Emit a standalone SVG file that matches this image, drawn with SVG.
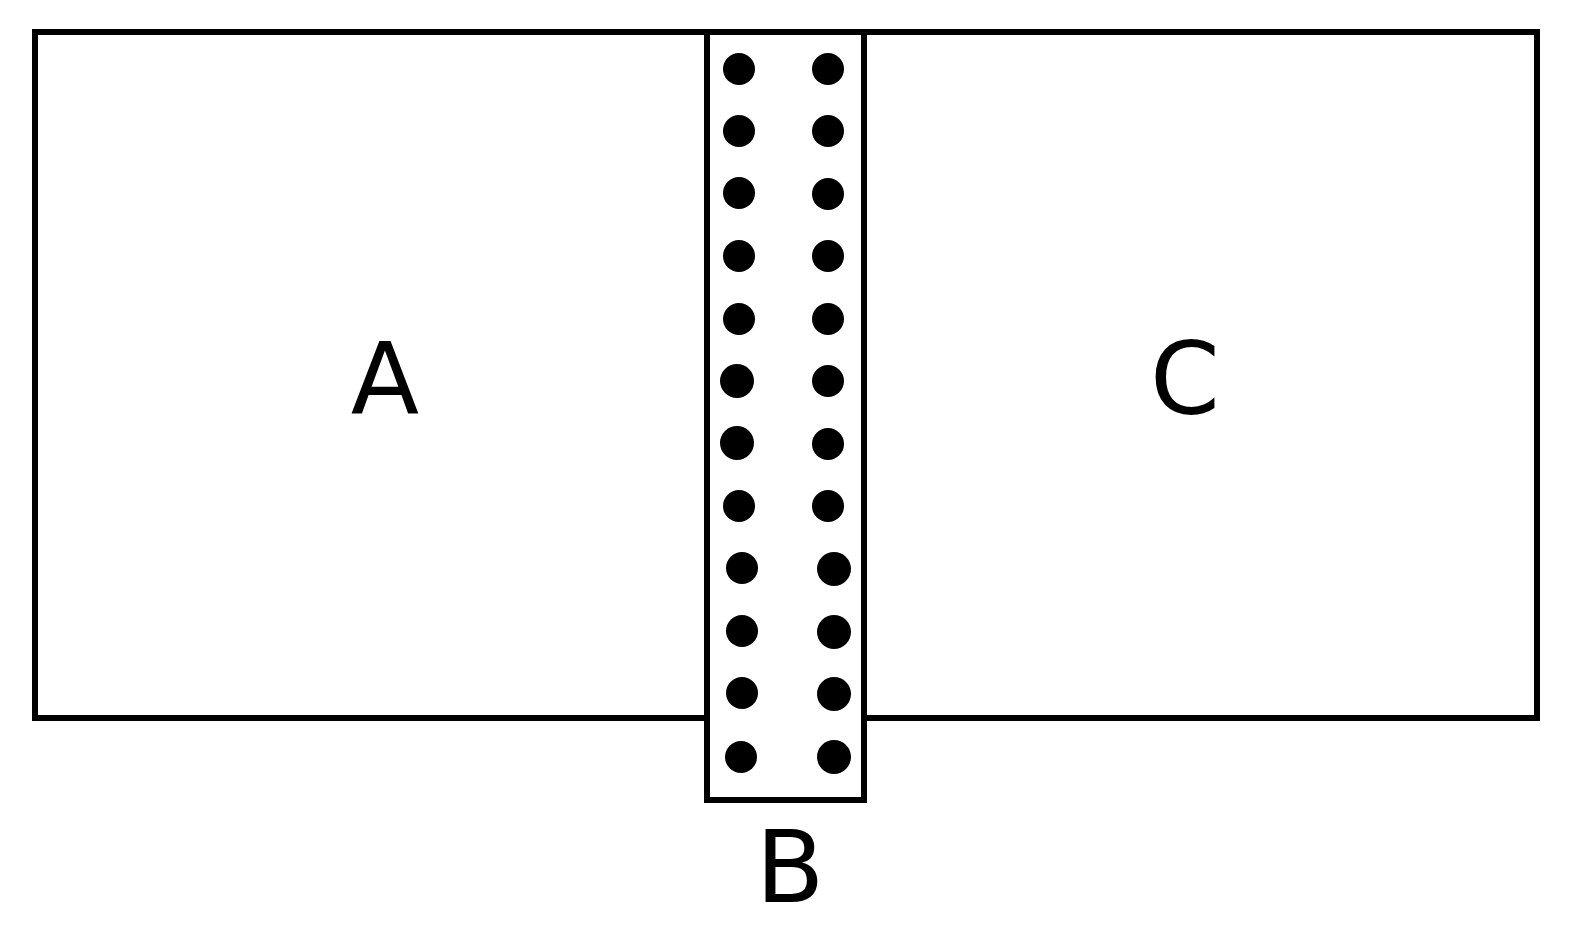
<svg xmlns="http://www.w3.org/2000/svg" width="1574" height="929" viewBox="0 0 1574 929">
<style>
.box{fill:none;stroke:#000;stroke-width:6}
.lbl{font-family:"DejaVu Sans",sans-serif;font-size:100px;fill:#000;text-anchor:middle}
.dot{fill:#000}
</style>
<rect width="1574" height="929" fill="#fff"/>
<g id="A"><rect class="box" x="35" y="32" width="672" height="686"/><text class="lbl" x="385" y="414">A</text></g>
<g id="C"><rect class="box" x="864" y="32" width="673" height="686"/><text class="lbl" x="1185" y="414">C</text></g>
<g id="B"><rect class="box" fill="#fff" style="fill:#fff" x="707" y="32" width="157" height="768"/>
<g class="dot">
<circle cx="739" cy="69" r="16"/><circle cx="828" cy="69" r="16"/>
<circle cx="739" cy="131" r="16"/><circle cx="828" cy="131" r="16"/>
<circle cx="739" cy="193" r="16"/><circle cx="828" cy="194" r="16"/>
<circle cx="739" cy="256" r="16"/><circle cx="828" cy="256" r="16"/>
<circle cx="739" cy="319" r="16"/><circle cx="828" cy="319" r="16"/>
<circle cx="737" cy="381" r="17"/><circle cx="828" cy="381" r="16"/>
<circle cx="737" cy="443" r="17"/><circle cx="828" cy="444" r="16"/>
<circle cx="739" cy="506" r="16"/><circle cx="828" cy="506" r="16"/>
<circle cx="742" cy="568" r="16"/><circle cx="834" cy="569" r="17"/>
<circle cx="742" cy="631" r="16"/><circle cx="834" cy="632" r="17"/>
<circle cx="742" cy="693" r="16"/><circle cx="834" cy="694" r="17"/>
<circle cx="741" cy="757" r="16"/><circle cx="834" cy="757" r="17"/>
</g>
<text class="lbl" x="790" y="902">B</text></g>
<g id="connectors"/>
</svg>
